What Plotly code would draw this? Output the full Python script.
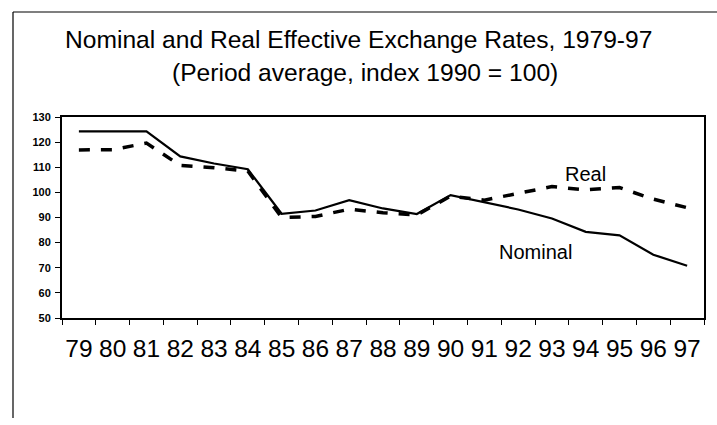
import plotly.graph_objects as go

years = ["79", "80", "81", "82", "83", "84", "85", "86", "87", "88",
         "89", "90", "91", "92", "93", "94", "95", "96", "97"]
nominal = [124.3, 124.3, 124.3, 114.3, 111.5, 109.2, 91.5, 92.8, 96.9, 93.6,
           91.4, 98.9, 96.1, 93.2, 89.6, 84.3, 82.9, 75.2, 70.8]
real = [116.9, 117.0, 119.6, 110.7, 109.8, 108.5, 90.0, 90.4, 93.3, 91.9,
        91.0, 98.5, 96.9, 99.5, 102.3, 101.0, 101.9, 97.3, 93.9]
y_ticks = [50, 60, 70, 80, 90, 100, 110, 120, 130]

W, H = 717, 425
L, R, T, B = 62, 704, 117, 318

def px(x):
    return (x - L) / (R - L)

def py(y):
    return (B - y) / (B - T)

fig = go.Figure()
fig.add_trace(go.Scatter(x=years, y=real, mode="lines", name="Real",
                         line=dict(color="black", width=3.5, dash="11px,11px")))
fig.add_trace(go.Scatter(x=years, y=nominal, mode="lines", name="Nominal",
                         line=dict(color="black", width=2.2)))

font = "Liberation Sans, Arial, sans-serif"
narrow = "Liberation Sans Narrow, Arial Narrow, Liberation Sans, sans-serif"
fig.update_layout(
    width=W, height=H,
    margin=dict(l=L, r=W - R, t=T, b=H - B, pad=0),
    paper_bgcolor="white", plot_bgcolor="white",
    showlegend=False,
    font=dict(family=font, color="black"),
    xaxis=dict(type="category", range=[-0.5, len(years) - 0.5],
               showgrid=False, zeroline=False,
               showline=True, mirror=True, linecolor="black", linewidth=2,
               ticks="outside", ticklen=5, tickcolor="black", tickwidth=1,
               tickson="boundaries", tickangle=0,
               tickfont=dict(size=24.5, family=narrow, color="black"),
               ticklabelstandoff=8),
    yaxis=dict(range=[50, 130], tickvals=y_ticks, showgrid=False, zeroline=False,
               showline=True, mirror=True, linecolor="black", linewidth=2,
               ticks="outside", ticklen=5, tickcolor="black", tickwidth=1,
               tickfont=dict(size=11, family=font, color="black", weight="bold"),
               ticklabelstandoff=2),
)

fig.add_annotation(text="Nominal and Real Effective Exchange Rates, 1979-97",
                   xref="paper", yref="paper", x=px(358), y=py(39),
                   xanchor="center", yanchor="middle", showarrow=False,
                   font=dict(size=24.6, family=font, color="black"))
fig.add_annotation(text="(Period average, index 1990 = 100)",
                   xref="paper", yref="paper", x=px(365), y=py(72),
                   xanchor="center", yanchor="middle", showarrow=False,
                   font=dict(size=24.6, family=font, color="black"))
fig.add_annotation(text="Real", xref="x", yref="y", x=15.0, y=107.3,
                   xanchor="center", yanchor="middle", showarrow=False,
                   font=dict(size=20, family=font, color="black"))
fig.add_annotation(text="Nominal", xref="x", yref="y", x=13.5, y=76.2,
                   xanchor="center", yanchor="middle", showarrow=False,
                   font=dict(size=20, family=font, color="black"))

# outer chart frame (top and left edges visible)
fig.add_shape(type="line", xref="paper", yref="paper",
              x0=px(13), y0=py(12), x1=px(720), y1=py(12),
              line=dict(color="black", width=1.2))
fig.add_shape(type="line", xref="paper", yref="paper",
              x0=px(13), y0=py(12), x1=px(13), y1=py(418),
              line=dict(color="black", width=1.2))

fig.write_html("out.html",
               config={"displayModeBar": False},
               post_script="document.body.style.margin='0';"
                           "document.body.style.overflow='hidden';")
